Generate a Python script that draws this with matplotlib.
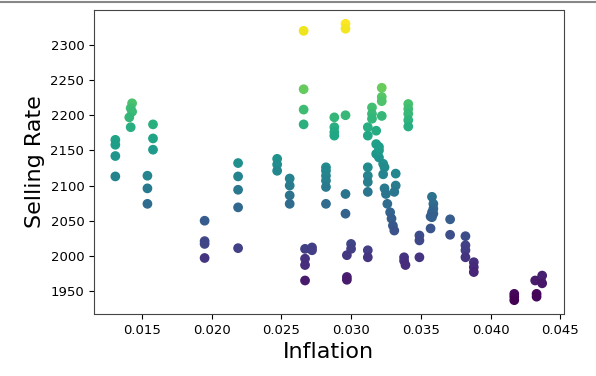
import matplotlib
matplotlib.use("Agg")
import matplotlib.pyplot as plt
from matplotlib.lines import Line2D

inflation = [
    0.0131, 0.0131, 0.0131, 0.0131,
    0.0143, 0.0142, 0.0143, 0.0141, 0.0142,
    0.0154, 0.0154, 0.0154,
    0.0158, 0.0158, 0.0158,
    0.0195, 0.0195, 0.0195, 0.0195,
    0.0219, 0.0219, 0.0219, 0.0219, 0.0219,
    0.0247, 0.0247, 0.0247,
    0.0256, 0.0256, 0.0256, 0.0256,
    0.0266, 0.0266, 0.0266, 0.0266,
    0.0267, 0.0267, 0.0267, 0.0267,
    0.0272, 0.0272,
    0.0282, 0.0282, 0.0282, 0.0282, 0.0282, 0.0282,
    0.0288, 0.0288, 0.0288, 0.0288,
    0.0296, 0.0296, 0.0296, 0.0296, 0.0296,
    0.0300, 0.0300, 0.0297, 0.0297, 0.0297,
    0.0312, 0.0312, 0.0312, 0.0312, 0.0312, 0.0312, 0.0312, 0.0312,
    0.0315, 0.0315, 0.0315,
    0.0318, 0.0318, 0.0318,
    0.0320, 0.0320, 0.0320,
    0.0322, 0.0322, 0.0322, 0.0322,
    0.0323, 0.0324, 0.0323, 0.0324, 0.0325, 0.0326,
    0.0328, 0.0329, 0.0330, 0.0331,
    0.0332, 0.0332, 0.0331,
    0.0338, 0.0338, 0.0339,
    0.0341, 0.0341, 0.0341, 0.0341, 0.0341,
    0.0349, 0.0349, 0.0349,
    0.0358, 0.0359, 0.0359, 0.0358, 0.0359, 0.0357, 0.0358, 0.0357,
    0.0371, 0.0371,
    0.0382, 0.0382, 0.0382, 0.0382,
    0.0388, 0.0388, 0.0388,
    0.0417, 0.0417, 0.0417,
    0.0433, 0.0433,
    0.0432, 0.0436, 0.0437, 0.0437,
]

selling_rate = [
    2165, 2158, 2142, 2113,
    2217, 2210, 2205, 2197, 2183,
    2114, 2096, 2074,
    2187, 2167, 2151,
    2050, 2021, 2017, 1997,
    2132, 2113, 2094, 2069, 2011,
    2138, 2130, 2121,
    2110, 2100, 2086, 2074,
    2320, 2237, 2208, 2187,
    2010, 1996, 1987, 1965,
    2012, 2008,
    2126, 2121, 2114, 2107, 2098, 2074,
    2197, 2183, 2176, 2171,
    2330, 2323, 2200, 2088, 2060,
    2017, 2010, 2001, 1970, 1966,
    2183, 2171, 2126, 2114, 2105, 2091, 2008, 1998,
    2211, 2202, 2195,
    2178, 2159, 2145,
    2140, 2150, 2155,
    2239, 2226, 2220, 2199,
    2131, 2126, 2116, 2096, 2088, 2074,
    2062, 2053, 2043, 2036,
    2117, 2100, 2091,
    1998, 1993, 1987,
    2216, 2209, 2202, 2193, 2184,
    2029, 2022, 1998,
    2084, 2074, 2067, 2062, 2060, 2056, 2055, 2039,
    2052, 2030,
    2028, 2015, 2008, 1998,
    1991, 1984, 1977,
    1946, 1942, 1937,
    1946, 1942,
    1965, 1966, 1972, 1961,
]

fig = plt.figure(figsize=(5.96, 3.76), dpi=100)
ax = fig.add_axes([94 / 596, 62 / 376, 469.5 / 596, 304 / 376])
ax.scatter(inflation, selling_rate, c=selling_rate, cmap="viridis", s=36)
ax.set_xlabel("Inflation", fontsize=16)
ax.set_ylabel("Selling Rate", fontsize=16)
ax.tick_params(labelsize=9.5)
for sp in ax.spines.values():
    sp.set_color("#444444")

fig.add_artist(Line2D([0, 1], [1 - 1.5 / 376, 1 - 1.5 / 376],
                      transform=fig.transFigure, color="#888888", lw=1.5))

fig.savefig("out.png", dpi=100)
